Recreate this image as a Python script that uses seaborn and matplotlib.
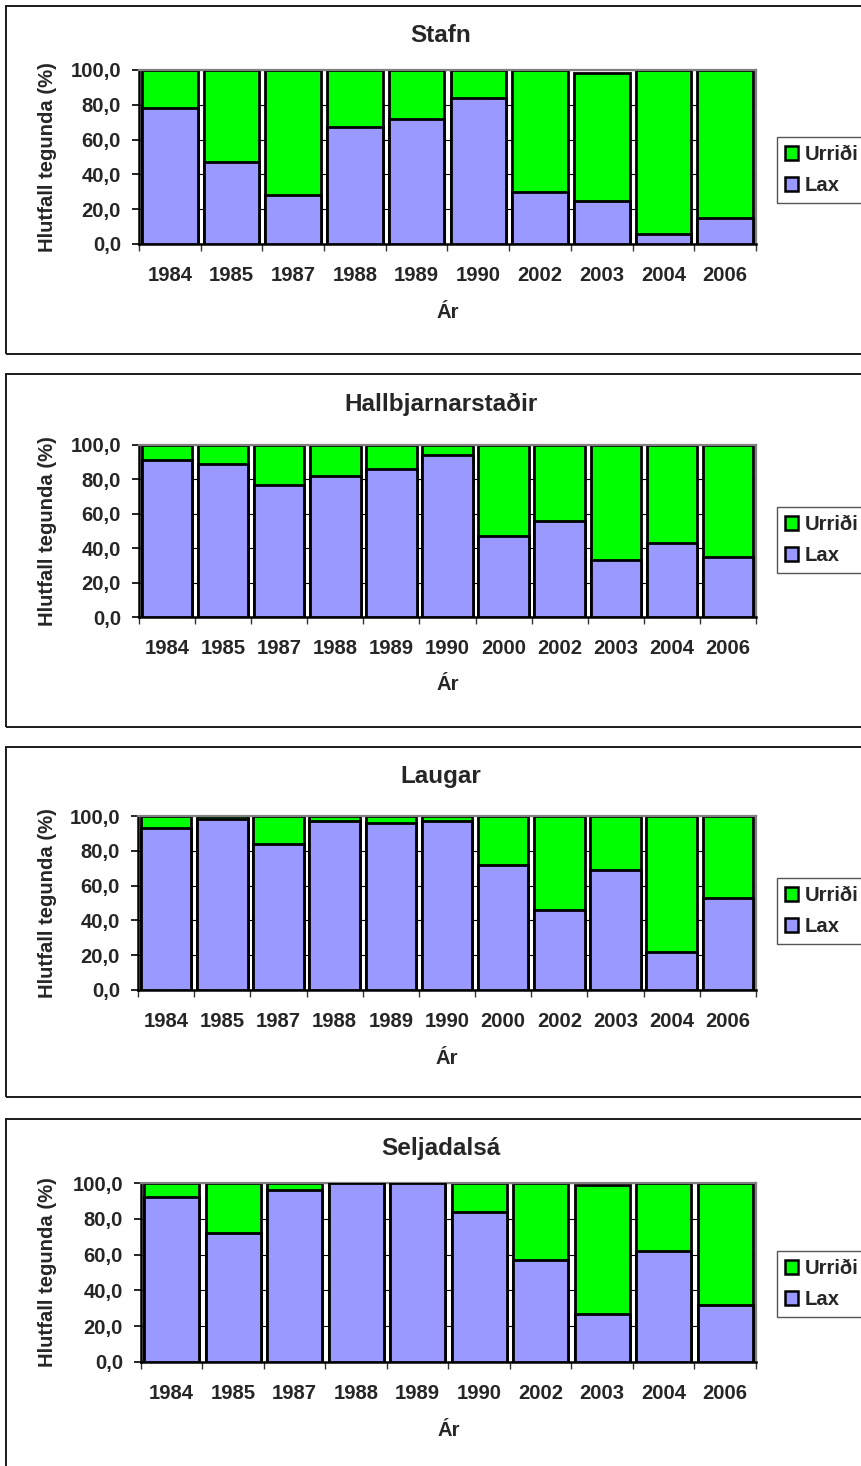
import matplotlib
matplotlib.use("Agg")
import matplotlib.pyplot as plt
import pandas as pd
import seaborn as sns
from matplotlib.patches import Rectangle, Patch
from matplotlib.ticker import FuncFormatter, FixedLocator

sns.set_theme(style="white")
plt.rcParams["font.family"] = ["Liberation Sans", "DejaVu Sans"]
plt.rcParams["font.weight"] = "bold"

# ---- data: share of species (%) per year ----
stafn_years = ["1984", "1985", "1987", "1988", "1989", "1990", "2002", "2003", "2004", "2006"]
stafn_lax = [78, 47, 28, 67, 72, 84, 30, 25, 6, 15]
stafn_urridi = [22, 53, 72, 33, 28, 16, 70, 73, 94, 85]

hallb_years = ["1984", "1985", "1987", "1988", "1989", "1990", "2000", "2002", "2003", "2004", "2006"]
hallb_lax = [91, 89, 77, 82, 86, 94, 47, 56, 33, 43, 35]
hallb_urridi = [9, 11, 23, 18, 14, 6, 53, 44, 67, 57, 65]

laugar_years = ["1984", "1985", "1987", "1988", "1989", "1990", "2000", "2002", "2003", "2004", "2006"]
laugar_lax = [93, 98, 84, 97, 96, 97, 72, 46, 69, 22, 53]
laugar_urridi = [7, 2, 16, 3, 4, 3, 28, 54, 31, 78, 47]

selja_years = ["1984", "1985", "1987", "1988", "1989", "1990", "2002", "2003", "2004", "2006"]
selja_lax = [92, 72, 96, 100, 100, 84, 57, 27, 62, 32]
selja_urridi = [8, 28, 4, 0, 0, 16, 43, 72, 38, 68]

titles = ["Stafn", "Hallbjarnarstaðir", "Laugar", "Seljadalsá"]
series_names = ["Urriði", "Lax"]
y_ticks = [0, 20, 40, 60, 80, 100]
y_label = "Hlutfall tegunda (%)"
x_label = "Ár"

GREEN = "#00FF00"
BLUE = "#9999FF"

W, H = 862, 1466
fig = plt.figure(figsize=(W / 100, H / 100), dpi=100)
fig.patch.set_facecolor("white")

# panel layout in pixels: frame top/bottom, plot x0/x1/top/bottom, title y, xlabel y, legend top
layout = [
    dict(ft=6, fb=354, x0=139, x1=756, yt=70, yb=244, ty=36, ly=312, lt=137),
    dict(ft=374, fb=727, x0=139, x1=756, yt=445, yb=617, ty=404, ly=684, lt=507),
    dict(ft=747, fb=1097, x0=138, x1=756, yt=816, yb=990, ty=777, ly=1058, lt=878),
    dict(ft=1119, fb=1490, x0=141, x1=756, yt=1183, yb=1362, ty=1149, ly=1431, lt=1251),
]
panels = [
    (stafn_years, stafn_lax, stafn_urridi),
    (hallb_years, hallb_lax, hallb_urridi),
    (laugar_years, laugar_lax, laugar_urridi),
    (selja_years, selja_lax, selja_urridi),
]

fmt = FuncFormatter(lambda v, p: f"{v:.1f}".replace(".", ","))

for (years, lax, urridi), L, title in zip(panels, layout, titles):
    # outer chart frame
    fig.add_artist(Rectangle((6 / W, 1 - L["fb"] / H), (950 - 6) / W, (L["fb"] - L["ft"]) / H,
                             transform=fig.transFigure, fill=False, edgecolor="#1a1a1a",
                             linewidth=1.4, clip_on=False))

    ax = fig.add_axes([L["x0"] / W, 1 - L["yb"] / H, (L["x1"] - L["x0"]) / W, (L["yb"] - L["yt"]) / H])
    df = pd.DataFrame({"year": years, "lax": lax, "urridi": urridi})
    df["total"] = df["lax"] + df["urridi"]

    # stacked bars: full height in green, salmon share in blue on top of it
    sns.barplot(data=df, x="year", y="total", order=years, color=GREEN, saturation=1,
                width=0.9, edgecolor="black", linewidth=2.0, ax=ax, zorder=2)
    sns.barplot(data=df, x="year", y="lax", order=years, color=BLUE, saturation=1,
                width=0.9, edgecolor="black", linewidth=2.0, ax=ax, zorder=3)

    n = len(years)
    ax.set_xlim(-0.5, n - 0.5)
    ax.set_ylim(0, 100)
    ax.set_facecolor("white")
    ax.set_xlabel("")
    ax.set_ylabel("")

    ax.yaxis.set_major_locator(FixedLocator(y_ticks))
    ax.yaxis.set_major_formatter(fmt)
    ax.yaxis.grid(True, color="black", linewidth=0.8, zorder=0)
    ax.xaxis.grid(False)
    ax.set_axisbelow(True)

    ax.tick_params(axis="y", which="major", left=True, length=5, width=1.2, color="black",
                   pad=8, labelsize=14.6)
    ax.set_xticks(range(n))
    ax.set_xticklabels(years, fontweight="bold")
    ax.set_xticks([i - 0.5 for i in range(n + 1)], minor=True)
    ax.tick_params(axis="x", which="major", bottom=True, length=0, pad=16, labelsize=14.6)
    ax.tick_params(axis="x", which="minor", bottom=True, length=5, width=1.0, color="#333333")
    for lab in ax.get_yticklabels():
        lab.set_fontweight("bold")

    for side in ("left", "bottom"):
        ax.spines[side].set_color("black")
        ax.spines[side].set_linewidth(1.8)
    for side in ("top", "right"):
        ax.spines[side].set_color("#808080")
        ax.spines[side].set_linewidth(1.6)

    fig.text(441 / W, 1 - L["ty"] / H, title, ha="center", va="center",
             fontsize=17.5, fontweight="bold")
    fig.text((L["x0"] + L["x1"]) / 2 / W, 1 - L["ly"] / H, x_label, ha="center", va="center",
             fontsize=14.6, fontweight="bold")
    fig.text(48 / W, 1 - (L["yt"] + L["yb"]) / 2 / H, y_label, ha="center", va="center",
             rotation=90, fontsize=14.6, fontweight="bold")

    handles = [Patch(facecolor=GREEN, edgecolor="black", linewidth=1.8),
               Patch(facecolor=BLUE, edgecolor="black", linewidth=1.8)]
    leg = fig.legend(handles=handles, labels=series_names, loc="upper left",
                     bbox_to_anchor=(777 / W, 1 - L["lt"] / H), frameon=True, fancybox=False,
                     edgecolor="#555555", framealpha=1, borderpad=0.4, borderaxespad=0,
                     handlelength=0.65, handleheight=0.65, handletextpad=0.3,
                     labelspacing=0.6, prop=dict(size=14.6, weight="bold"))
    leg.get_frame().set_linewidth(1.0)

fig.savefig("out.png", dpi=100, facecolor="white")
